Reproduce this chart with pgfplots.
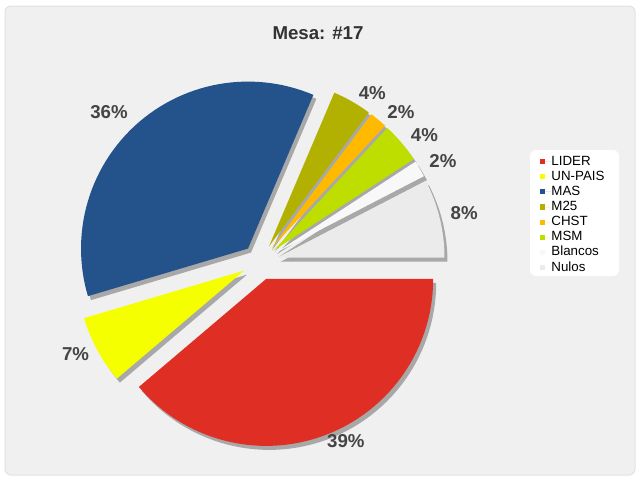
\documentclass[border=0pt]{standalone}
\usepackage{fontspec}
\setmainfont{Liberation Sans}
\usepackage{pgfplots}
\usepackage{pgfplotstable}
\pgfplotsset{compat=1.18}

\definecolor{cLIDER}{HTML}{DF2E24}
\definecolor{cUNPAIS}{HTML}{F5FF00}
\definecolor{cMAS}{HTML}{24528A}
\definecolor{cMveinte}{HTML}{B2B000}
\definecolor{cCHST}{HTML}{FFBA00}
\definecolor{cMSM}{HTML}{BEDE00}
\definecolor{cBlancos}{HTML}{F8F8F8}
\definecolor{cNulos}{HTML}{EBEBEB}
\definecolor{bg}{HTML}{F0F0F0}
\definecolor{shadow}{HTML}{A8A8A8}
\definecolor{labeltext}{HTML}{444444}
\definecolor{titletext}{HTML}{333333}

% share of votes (%), clockwise from 3 o'clock
% lshift/ldist: where the percentage label sits (deg from the bisector, px from centre)
\pgfplotstableread{
name    value colour   lshift ldist
LIDER   38.8  cLIDER     5.4  199
UN-PAIS 6.6   cUNPAIS   -2.0  206
MAS     36.0  cMAS       3.4  213
M25     3.8   cMveinte  -3.7  203
CHST    1.7   cCHST     -3.4  206
MSM     3.9   cMSM      -2.4  208
Blancos 1.6   cBlancos  -1.3  209
Nulos   7.6   cNulos    -0.2  210
}\votes

\def\cx{260}  % pie centre, px
\def\cy{218}
\def\rad{167} % radius
\def\off{18}  % explode offset

\tikzset{pielabel/.style={font=\bfseries\fontsize{14}{16}\selectfont, text=labeltext}}

% #1 = 1 draws the shadows, 0 draws slices, labels and legend
\newcommand\drawpie[1]{%
  \def\acc{0}%
  \pgfplotsforeachungrouped \i in {0,...,7}{%
    \pgfplotstablegetelem{\i}{value}\of\votes \let\val\pgfplotsretval
    \pgfplotstablegetelem{\i}{colour}\of\votes \let\col\pgfplotsretval
    \pgfplotstablegetelem{\i}{name}\of\votes \let\nm\pgfplotsretval
    \pgfplotstablegetelem{\i}{lshift}\of\votes \let\lsh\pgfplotsretval
    \pgfplotstablegetelem{\i}{ldist}\of\votes \let\ld\pgfplotsretval
    \pgfmathsetmacro\sa{-3.6*\acc}%
    \pgfmathsetmacro\ea{-3.6*(\acc+\val)}%
    \pgfmathsetmacro\md{(\sa+\ea)/2}%
    \pgfmathsetmacro\ox{\cx+\off*cos(\md)+#1*3}%
    \pgfmathsetmacro\oy{\cy+\off*sin(\md)-#1*4}%
    \pgfmathsetmacro\acc{\acc+\val}%
    \ifnum#1=1
      \edef\cmd{\noexpand\addplot[fill=shadow, draw=none, forget plot, domain=\ea:\sa, samples=60]
        ({\ox+\rad*cos(x)},{\oy+\rad*sin(x)}) -- (\ox,\oy) -- cycle;}%
    \else
      \pgfmathsetmacro\lx{\cx+\ld*cos(\md+\lsh)}%
      \pgfmathsetmacro\ly{\cy+\ld*sin(\md+\lsh)}%
      \pgfmathtruncatemacro\pct{round(\val)}%
      \edef\cmd{\noexpand\addplot[fill=\col, draw=none, domain=\ea:\sa, samples=60]
        ({\ox+\rad*cos(x)},{\oy+\rad*sin(x)}) -- (\ox,\oy) -- cycle;
        \noexpand\addlegendentry{\nm}
        \noexpand\node[pielabel] at (axis cs:\lx,\ly) {\pct\noexpand\%};}%
    \fi
    \cmd
  }}

\begin{document}
\begin{tikzpicture}
\begin{axis}[
    x=0.75pt, y=0.75pt,
    xmin=0, xmax=640, ymin=0, ymax=480,
    hide axis,
    clip=false,
    legend style={at={(0.8433,0.6790)}, anchor=north west,
        fill=none, draw=none,
        font=\fontsize{10}{12}\selectfont,
        inner xsep=0pt, inner ysep=0pt,
        row sep=0.45pt,
        nodes={inner sep=0.6pt, text height=7.5pt, text depth=2.2pt}},
    legend cell align=left,
    legend image code/.code={%
      \fill[#1, sharp corners] (0pt,-1.9pt) rectangle (3.8pt,1.9pt);
      \path (0pt,0pt) -- (8pt,0pt);},
  ]
  \fill[white] (axis cs:0,0) rectangle (axis cs:640,480);
  \filldraw[fill=bg, draw={rgb,255:red,226;green,226;blue,226}, line width=0.75pt, rounded corners=4.5pt]
    (axis cs:5,5) rectangle (axis cs:635,474);
  \fill[white, rounded corners=4.5pt] (axis cs:530,330) rectangle (axis cs:619,204);
  \node[font=\bfseries\fontsize{14}{16}\selectfont, text=titletext] at (axis cs:318,447) {Mesa: \#17};
  \drawpie{1}
  \drawpie{0}
\end{axis}
\end{tikzpicture}
\end{document}
